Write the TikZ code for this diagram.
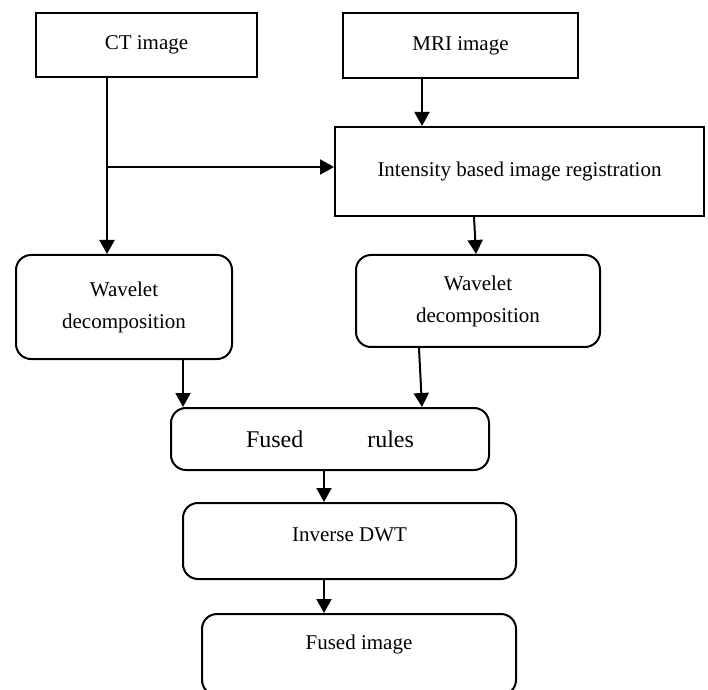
\documentclass[tikz,border=0pt]{standalone}
\usepackage{fontspec}
\setmainfont{Liberation Serif}
\usetikzlibrary{arrows.meta}
\begin{document}
\begin{tikzpicture}[x=0.5pt,y=-0.5pt,
    box/.style={draw,line width=1pt,inner sep=0pt,align=center,
      font=\fontsize{10.5}{16}\selectfont},
    rbox/.style={box,rounded corners=7.5pt},
    arr/.style={line width=1pt,-{Triangle[width=7.5pt,length=7pt]}}]
  \useasboundingbox (0,0) rectangle (708,690);
  % inputs
  \node[box,minimum width=110.5pt,minimum height=32pt] (ct) at (146.5,45) {CT image};
  \node[box,minimum width=117.5pt,minimum height=32.5pt] (mri) at (460.5,45.5) {MRI image};
  \node[box,minimum width=184.5pt,minimum height=44.5pt] (reg) at (519.5,171.5)
    {Intensity based image registration};
  % decomposition
  \node[rbox,minimum width=108pt,minimum height=52pt] (wl) at (124,307) {Wavelet\\decomposition};
  \node[rbox,minimum width=122pt,minimum height=46pt] (wr) at (478,301) {Wavelet\\decomposition};
  \node[rbox,minimum width=159pt,minimum height=31pt,font=\fontsize{12}{14}\selectfont]
    (fr) at (330,439) {Fused\hspace{32pt}rules};
  \node[rbox,minimum width=166.5pt,minimum height=38pt,text depth=6pt] (idwt) at (349.5,541)
    {Inverse DWT};
  \node[rbox,minimum width=157pt,minimum height=40.5pt,text depth=12pt] (fimg) at (359,654.5)
    {Fused image};
  % connector positions
  \coordinate (split) at (107,167);
  \coordinate (mrix) at (422,0);
  \coordinate (regx) at (474,0);
  \coordinate (wrx) at (476,0);
  \coordinate (wlx) at (183,0);
  \coordinate (wrox) at (419,0);
  \coordinate (frx) at (422,0);
  \coordinate (midx) at (324,0);
  \begin{scope}[arr]
    \draw (ct.south -| split) -- (wl.north -| split);
    \draw (split) -- (split -| reg.west);
    \draw (mri.south -| mrix) -- (reg.north -| mrix);
    \draw (reg.south -| regx) -- (wr.north -| wrx);
    \draw (wl.south -| wlx) -- (fr.north -| wlx);
    \draw (wr.south -| wrox) -- (fr.north -| frx);
    \draw (fr.south -| midx) -- (idwt.north -| midx);
    \draw (idwt.south -| midx) -- (fimg.north -| midx);
  \end{scope}
\end{tikzpicture}
\end{document}
